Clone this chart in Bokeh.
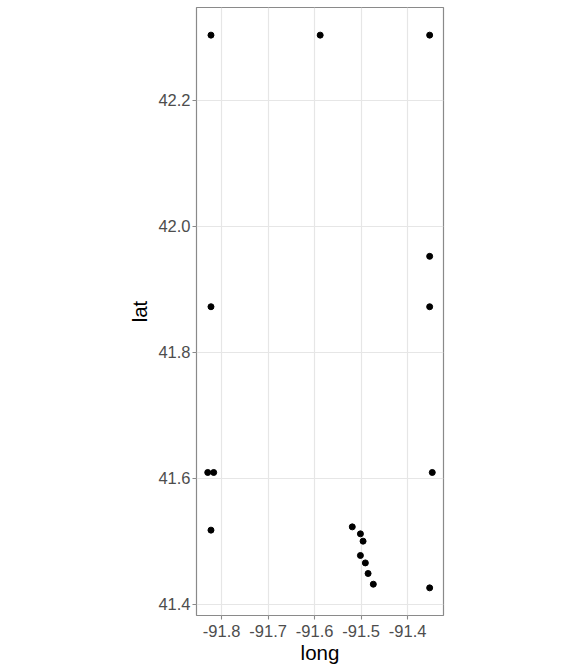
from bokeh.plotting import figure
from bokeh.models import Range1d, FixedTicker, PrintfTickFormatter
from bokeh.embed import file_html
from bokeh.resources import INLINE

# Station coordinates (longitude, latitude)
long = [-91.8228, -91.5880, -91.3526,
        -91.3526, -91.8228, -91.3526,
        -91.8298, -91.8170, -91.3470,
        -91.8228,
        -91.5190, -91.5015, -91.4958, -91.5015, -91.4909, -91.4850, -91.4738,
        -91.3526]
lat = [42.303, 42.303, 42.303,
       41.952, 41.872, 41.872,
       41.609, 41.609, 41.609,
       41.5175,
       41.5227, 41.5116, 41.500, 41.4773, 41.4655, 41.4487, 41.4317,
       41.4259]

x_ticks = [-91.8, -91.7, -91.6, -91.5, -91.4]
y_ticks = [41.4, 41.6, 41.8, 42.0, 42.2]

# 5% padding around the data extent
xpad = (max(long) - min(long)) * 0.05
ypad = (max(lat) - min(lat)) * 0.05

p = figure(width=576, height=672, output_backend="svg", toolbar_location=None,
           x_range=Range1d(min(long) - xpad, max(long) + xpad),
           y_range=Range1d(min(lat) - ypad, max(lat) + ypad),
           min_border_left=196, min_border_right=133,
           min_border_top=7, min_border_bottom=57)

p.background_fill_color = "white"
p.border_fill_color = "white"
p.outline_line_color = "#8a8a8a"
p.outline_line_width = 1.2

p.xgrid.ticker = FixedTicker(ticks=x_ticks)
p.ygrid.ticker = FixedTicker(ticks=y_ticks)
for g in (p.xgrid, p.ygrid):
    g.grid_line_color = "#E6E6E6"
    g.grid_line_width = 1.2

p.xaxis.ticker = FixedTicker(ticks=x_ticks)
p.yaxis.ticker = FixedTicker(ticks=y_ticks)
p.xaxis.formatter = PrintfTickFormatter(format="%.1f")
p.yaxis.formatter = PrintfTickFormatter(format="%.1f")
p.xaxis.axis_label = "long"
p.yaxis.axis_label = "lat"

for ax in (p.xaxis, p.yaxis):
    ax.axis_line_color = None
    ax.major_tick_line_color = "#8a8a8a"
    ax.major_tick_line_width = 1.1
    ax.major_tick_out = 4
    ax.major_tick_in = 0
    ax.minor_tick_line_color = None
    ax.major_label_text_font = "Liberation Sans"
    ax.major_label_text_font_size = "16.5px"
    ax.major_label_text_color = "#4D4D4D"
    ax.axis_label_text_font = "Liberation Sans"
    ax.axis_label_text_font_size = "20.5px"
    ax.axis_label_text_font_style = "normal"
    ax.axis_label_text_color = "black"

p.xaxis.major_label_standoff = 5
p.xaxis.axis_label_standoff = 1
p.yaxis.major_label_standoff = 2
p.yaxis.axis_label_standoff = 4

p.scatter(long, lat, size=6, color="black")

open("out.html", "w").write(file_html(p, INLINE))
